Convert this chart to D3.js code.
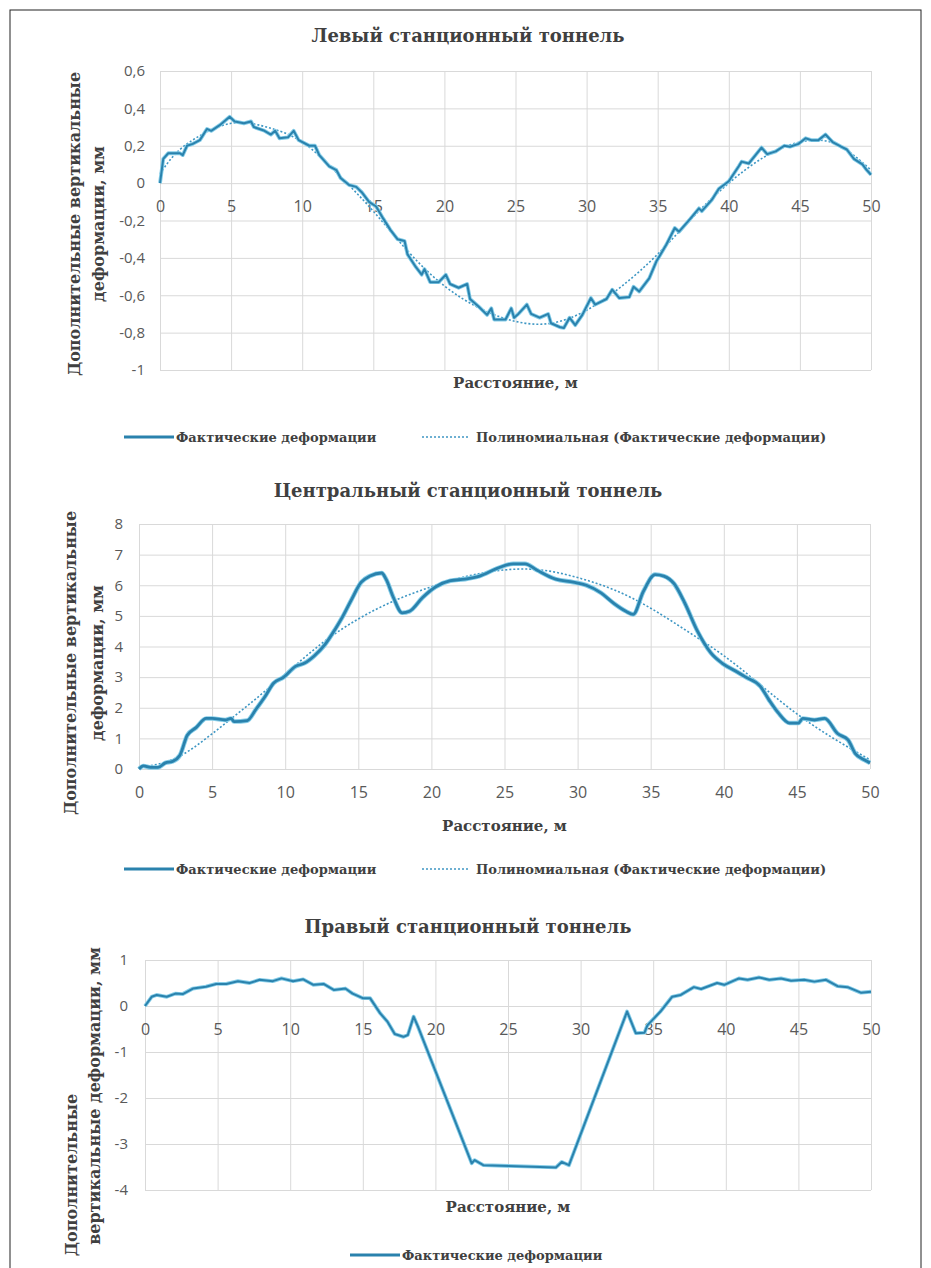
<!DOCTYPE html>
<html>
<head>
<meta charset="utf-8">
<script src="https://cdn.jsdelivr.net/npm/d3@7"></script>
<style>
  body { margin: 0; background: #fff; }
  .title { font-family: 'DejaVu Serif', serif; font-weight: bold; fill: #404040; }
  .tick text { font-family: 'Open Sans', sans-serif; fill: #595959; }
  .grid line { stroke: #d9d9d9; stroke-width: 1; }
  .grid .domain { display: none; }
</style>
</head>
<body>
<svg id="fig" width="931" height="1268"></svg>
<script>
// distances (m) and deformations (mm)
const xTicks = [0, 5, 10, 15, 20, 25, 30, 35, 40, 45, 50];

const leftDist = [0, 0.23, 0.58, 1.4, 1.6, 1.9, 2.3, 2.8, 3.3, 3.6, 4.2, 4.9, 5.25, 5.9, 6.4, 6.6, 7.35, 7.8, 8.1, 8.4,
  9.0, 9.4, 9.75, 10.5, 10.9, 11.2, 11.9, 12.4, 12.7, 13.3, 13.8, 14.2, 14.7, 15.2, 15.7, 16.2, 16.7, 17.2, 17.4, 18.0,
  18.4, 18.6, 19.0, 19.6, 20.1, 20.4, 21.0, 21.6, 21.8, 22.4, 23.0, 23.3, 23.5, 24.3, 24.7, 24.9, 25.2, 25.8, 26.1, 26.7,
  27.3, 27.5, 28.1, 28.4, 28.8, 29.2, 29.7, 30.3, 30.6, 31.4, 31.8, 32.3, 33.0, 33.3, 33.7, 34.4, 34.9, 35.6, 36.2, 36.5,
  37.3, 37.9, 38.1, 38.8, 39.3, 40.0, 40.7, 40.9, 41.4, 42.3, 42.7, 43.3, 43.9, 44.3, 44.9, 45.4, 45.8, 46.3, 46.8, 47.3,
  47.9, 48.3, 48.8, 49.4, 49.7, 50.0];
const leftDef = [0, 0.13, 0.16, 0.16, 0.15, 0.20, 0.21, 0.23, 0.29, 0.28, 0.31, 0.355, 0.33, 0.32, 0.33, 0.30, 0.28, 0.26, 0.28, 0.24,
  0.245, 0.28, 0.23, 0.20, 0.20, 0.15, 0.09, 0.07, 0.027, -0.01, -0.02, -0.05, -0.10, -0.125, -0.19, -0.25, -0.30, -0.31, -0.38, -0.45,
  -0.49, -0.46, -0.53, -0.53, -0.49, -0.54, -0.56, -0.54, -0.62, -0.66, -0.705, -0.67, -0.73, -0.73, -0.67, -0.72, -0.70, -0.65, -0.70, -0.72,
  -0.70, -0.75, -0.77, -0.775, -0.72, -0.76, -0.705, -0.615, -0.65, -0.62, -0.57, -0.615, -0.61, -0.555, -0.58, -0.51, -0.42, -0.33, -0.24, -0.26,
  -0.19, -0.135, -0.15, -0.09, -0.03, 0.01, 0.09, 0.115, 0.105, 0.19, 0.155, 0.17, 0.20, 0.195, 0.21, 0.24, 0.23, 0.23, 0.26, 0.22,
  0.195, 0.18, 0.13, 0.10, 0.07, 0.045];
const leftTrendDist = [0, 1, 2.5, 5, 7.5, 10, 12.5, 15, 17.5, 20, 22.5, 25, 27.5, 30, 32.5, 35, 37.5, 40, 42.5, 45, 47.5, 50];
const leftTrendDef = [0.05, 0.15, 0.24, 0.32, 0.30, 0.22, 0.05, -0.15, -0.37, -0.55, -0.67, -0.74, -0.75, -0.68, -0.55, -0.38, -0.18, 0.0, 0.14, 0.22, 0.21, 0.07];
const leftYTicks = [-1, -0.8, -0.6, -0.4, -0.2, 0, 0.2, 0.4, 0.6];
const leftYLabels = ['-1', '-0,8', '-0,6', '-0,4', '-0,2', '0', '0,2', '0,4', '0,6'];

const centerDist = [0, 0.3, 0.8, 1.3, 1.8, 2.3, 2.8, 3.3, 3.9, 4.6, 5.0, 5.9, 6.3, 6.5, 7.4, 8.0, 8.6, 9.2, 9.9, 10.7,
  11.3, 12.0, 12.7, 13.4, 13.9, 14.5, 15.2, 15.8, 16.6, 16.9, 17.4, 18.0, 18.5, 19.4, 20.3, 21.3, 22.3, 23.3, 24.5, 25.6,
  26.4, 27.2, 28.5, 29.7, 30.6, 31.6, 32.5, 33.3, 33.8, 34.5, 35.3, 35.9, 36.6, 37.3, 38.2, 39.1, 39.9, 40.8, 41.5, 42.5,
  43.1, 43.7, 44.5, 45.1, 45.4, 46.2, 46.9, 47.8, 48.5, 49.0, 49.6, 50.0];
const centerDef = [0, 0.1, 0.05, 0.05, 0.2, 0.25, 0.45, 1.1, 1.35, 1.65, 1.65, 1.6, 1.65, 1.55, 1.58, 1.95, 2.35, 2.8, 3.0, 3.35,
  3.45, 3.7, 4.05, 4.55, 4.95, 5.5, 6.1, 6.3, 6.4, 6.2, 5.6, 5.1, 5.15, 5.6, 5.95, 6.15, 6.2, 6.3, 6.55, 6.7,
  6.7, 6.5, 6.2, 6.1, 6.0, 5.75, 5.4, 5.15, 5.05, 5.8, 6.35, 6.3, 6.05, 5.45, 4.5, 3.8, 3.45, 3.2, 3.0, 2.7,
  2.25, 1.85, 1.5, 1.5, 1.65, 1.6, 1.65, 1.15, 0.95, 0.5, 0.3, 0.2];
const centerTrendDist = [0, 2.5, 5, 7.5, 10, 12.5, 15, 17.5, 20, 22.5, 25, 27.5, 30, 32.5, 35, 37.5, 40, 42.5, 45, 47.5, 50];
const centerTrendDef = [0.05, 0.35, 1.15, 2.1, 3.1, 4.1, 4.9, 5.5, 5.95, 6.3, 6.5, 6.5, 6.25, 5.85, 5.25, 4.5, 3.7, 2.75, 1.8, 1.0, 0.3];
const centerYTicks = [0, 1, 2, 3, 4, 5, 6, 7, 8];
const centerYLabels = ['0', '1', '2', '3', '4', '5', '6', '7', '8'];

const rightDist = [0, 0.46, 0.8, 1.5, 2.1, 2.6, 3.3, 4.2, 4.9, 5.6, 6.4, 7.2, 7.9, 8.8, 9.4, 10.2, 10.9, 11.6, 12.3, 13.0,
  13.8, 14.3, 15.0, 15.5, 16.2, 16.7, 17.2, 17.8, 18.1, 18.5, 18.8, 22.5, 22.7, 23.3, 28.3, 28.7, 29.2, 33.2, 33.8, 34.4,
  34.6, 35.5, 36.3, 36.9, 37.8, 38.3, 39.4, 39.9, 40.9, 41.5, 42.3, 43.0, 43.8, 44.5, 45.4, 46.1, 46.9, 47.7, 48.4, 49.3, 50.0];
const rightDef = [0, 0.2, 0.24, 0.2, 0.27, 0.26, 0.38, 0.42, 0.48, 0.48, 0.54, 0.5, 0.57, 0.54, 0.6, 0.54, 0.58, 0.46, 0.48, 0.35,
  0.38, 0.27, 0.17, 0.17, -0.16, -0.34, -0.61, -0.67, -0.63, -0.23, -0.45, -3.42, -3.35, -3.46, -3.51, -3.39, -3.46, -0.12, -0.59, -0.58,
  -0.42, -0.12, 0.2, 0.24, 0.41, 0.37, 0.5, 0.46, 0.6, 0.57, 0.62, 0.57, 0.6, 0.55, 0.57, 0.53, 0.57, 0.43, 0.41, 0.29, 0.31];
const rightYTicks = [-4, -3, -2, -1, 0, 1];
const rightYLabels = ['-4', '-3', '-2', '-1', '0', '1'];

const seriesName = 'Фактические деформации';
const trendName = 'Полиномиальная (Фактические деформации)';

const svg = d3.select('#fig');
const lineColor = '#2a82ad';
const glowColor = '#86cde8';
const trendColor = '#3f97c4';

// outer frame
svg.append('rect')
  .attr('x', 10).attr('y', 10)
  .attr('width', 911).attr('height', 1270)
  .attr('fill', 'none').attr('stroke', '#222').attr('stroke-width', 1);

function drawChart(c) {
  const g = svg.append('g');
  const x = d3.scaleLinear().domain([0, 50]).range([c.left, c.right]);
  const y = d3.scaleLinear().domain(d3.extent(c.yTicks)).range([c.bottom, c.top]);

  g.append('g')
    .attr('class', 'grid')
    .attr('transform', `translate(0, ${c.bottom})`)
    .call(d3.axisBottom(x).tickValues(xTicks).tickSize(-(c.bottom - c.top)).tickFormat(''));

  g.append('g')
    .attr('class', 'grid')
    .attr('transform', `translate(${c.left}, 0)`)
    .call(d3.axisLeft(y).tickValues(c.yTicks).tickSize(-(c.right - c.left)).tickFormat(''));

  // x labels sit under the zero line
  const xAxis = g.append('g')
    .attr('transform', `translate(0, ${y(0)})`)
    .call(d3.axisBottom(x).tickValues(xTicks).tickSize(0).tickPadding(18));
  xAxis.select('.domain').remove();
  xAxis.selectAll('text').style('font-size', '16px');

  const yAxis = g.append('g')
    .attr('transform', `translate(${c.left}, 0)`)
    .call(d3.axisLeft(y).tickValues(c.yTicks).tickSize(0).tickPadding(c.yPad)
      .tickFormat((d, i) => c.yLabels[i]));
  yAxis.select('.domain').remove();
  yAxis.selectAll('text').style('font-size', '15px');

  const line = d3.line().x(d => x(d[0])).y(d => y(d[1]));
  const pts = c.dist.map((d, i) => [d, c.def[i]]);

  if (c.trendDist) {
    const trend = d3.line().x(d => x(d[0])).y(d => y(d[1])).curve(d3.curveNatural);
    g.append('path')
      .datum(c.trendDist.map((d, i) => [d, c.trendDef[i]]))
      .attr('d', trend)
      .attr('fill', 'none')
      .attr('stroke', trendColor)
      .attr('stroke-width', 1.6)
      .attr('stroke-dasharray', '2,2');
  }

  g.append('path')
    .datum(pts)
    .attr('d', c.smooth ? line.curve(d3.curveMonotoneX) : line)
    .attr('fill', 'none')
    .attr('stroke', glowColor)
    .attr('stroke-width', c.width + 1.8)
    .attr('stroke-linejoin', 'round');

  g.append('path')
    .datum(pts)
    .attr('d', c.smooth ? line.curve(d3.curveMonotoneX) : line)
    .attr('fill', 'none')
    .attr('stroke', lineColor)
    .attr('stroke-width', c.width)
    .attr('stroke-linejoin', 'round');

  g.append('text')
    .attr('class', 'title')
    .attr('x', 468).attr('y', c.titleY)
    .attr('text-anchor', 'middle')
    .style('font-size', '18px')
    .text(c.title);

  g.append('text')
    .attr('class', 'title')
    .attr('x', (c.left + c.right) / 2).attr('y', c.xTitleY)
    .attr('text-anchor', 'middle')
    .style('font-size', '15px')
    .text('Расстояние, м');

  c.yTitle.forEach((t, i) => {
    g.append('text')
      .attr('class', 'title')
      .attr('transform', `translate(${c.yTitleX[i]}, ${c.yTitleMid[i]}) rotate(-90)`)
      .attr('text-anchor', 'middle')
      .style('font-size', '16px')
      .text(t);
  });

  // legend
  const lg = g.append('g').attr('transform', `translate(0, ${c.legendY})`);
  lg.append('line')
    .attr('x1', c.legendX).attr('x2', c.legendX + 50)
    .attr('stroke', lineColor).attr('stroke-width', 3);
  lg.append('text')
    .attr('class', 'title')
    .attr('x', c.legendX + 52).attr('dy', '0.35em')
    .style('font-size', '13px')
    .text(seriesName);
  if (c.trendDist) {
    lg.append('line')
      .attr('x1', 422).attr('x2', 470)
      .attr('stroke', trendColor).attr('stroke-width', 1.6)
      .attr('stroke-dasharray', '2,2');
    lg.append('text')
      .attr('class', 'title')
      .attr('x', 476).attr('dy', '0.35em')
      .style('font-size', '13px')
      .text(trendName);
  }
}

drawChart({
  title: 'Левый станционный тоннель', titleY: 42,
  left: 160, right: 871, top: 71, bottom: 370,
  yTicks: leftYTicks, yLabels: leftYLabels, yPad: 15,
  dist: leftDist, def: leftDef, trendDist: leftTrendDist, trendDef: leftTrendDef,
  width: 2, smooth: false,
  xTitleY: 388,
  yTitle: ['Дополнительные вертикальные', 'деформации, мм'], yTitleX: [80, 104], yTitleMid: [224, 224],
  legendX: 124, legendY: 437
});

drawChart({
  title: 'Центральный станционный тоннель', titleY: 497,
  left: 139, right: 870, top: 524, bottom: 769,
  yTicks: centerYTicks, yLabels: centerYLabels, yPad: 16,
  dist: centerDist, def: centerDef, trendDist: centerTrendDist, trendDef: centerTrendDef,
  width: 2.8, smooth: true,
  xTitleY: 831,
  yTitle: ['Дополнительные вертикальные', 'деформации, мм'], yTitleX: [76, 103], yTitleMid: [663, 663],
  legendX: 124, legendY: 869
});

drawChart({
  title: 'Правый станционный тоннель', titleY: 933,
  left: 145, right: 871, top: 960, bottom: 1190,
  yTicks: rightYTicks, yLabels: rightYLabels, yPad: 17,
  dist: rightDist, def: rightDef,
  width: 2, smooth: false,
  xTitleY: 1212,
  yTitle: ['Дополнительные', 'вертикальные деформации, мм'], yTitleX: [77, 100], yTitleMid: [1175, 1096],
  legendX: 350, legendY: 1255
});
</script>
</body>
</html>
